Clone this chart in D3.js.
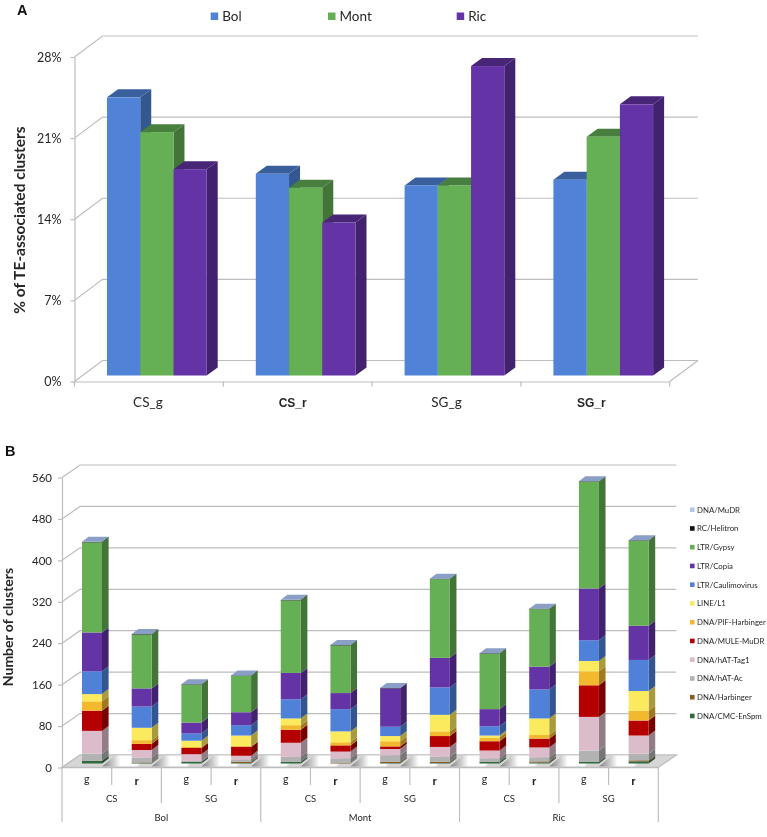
<!DOCTYPE html>
<html>
<head>
<meta charset="utf-8">
<script src="https://cdn.jsdelivr.net/npm/d3@7"></script>
<style>
  body { margin: 0; background: #fff; }
  svg { display: block; filter: blur(0.35px); }
  text { font-family: Lato, "Open Sans", sans-serif; fill: #262626; }
</style>
</head>
<body>
<div id="chart"></div>
<script>
// Panel A data
const samplesA = ["CS_g", "CS_r", "SG_g", "SG_r"];
const linesA = ["Bol", "Mont", "Ric"];
const bol = [24.0, 17.4, 16.4, 16.9];
const mont = [21.0, 16.2, 16.4, 20.6];
const ric = [17.8, 13.2, 26.7, 23.4];
const ticksA = [0, 7, 14, 21, 28];

// Panel B data, bars go left to right
const groupB = ["Bol", "Mont", "Ric"];
const tissueB = ["CS", "SG"];
const partB = ["g", "r"];
const cmcEnSpm = [5, 1, 3, 1, 3, 0, 1, 1, 3, 2, 3, 4];
const harbinger = [0, 1, 0, 2, 0, 1, 2, 2, 0, 2, 0, 2];
const hatAc = [14, 9, 2, 5, 10, 9, 13, 10, 7, 8, 22, 13];
const hatTag1 = [44, 15, 13, 7, 27, 13, 12, 19, 15, 19, 65, 35];
const muleMudr = [39, 12, 12, 17, 25, 12, 5, 21, 18, 17, 61, 29];
const pifHarbinger = [18, 7, 2, 2, 9, 6, 10, 9, 7, 7, 27, 19];
const lineL1 = [14, 24, 12, 20, 13, 21, 10, 32, 4, 32, 20, 38];
const caulimovirus = [44, 41, 14, 20, 37, 43, 18, 53, 18, 56, 40, 60];
const copia = [75, 35, 21, 25, 51, 31, 74, 57, 33, 44, 100, 66];
const gypsy = [174, 104, 73, 70, 140, 92, 0, 152, 107, 111, 206, 164];
const helitron = [1, 1, 1, 1, 1, 1, 1, 1, 1, 1, 1, 1];
const mudr = [0, 0, 0, 0, 0, 0, 0, 0, 0, 0, 0, 0];
const ticksB = [0, 80, 160, 240, 320, 400, 480, 560];

// bottom to top of the stack
const seriesB = [
  {name: "DNA/CMC-EnSpm", values: cmcEnSpm, color: "#2f6b3c"},
  {name: "DNA/Harbinger", values: harbinger, color: "#8a5a20"},
  {name: "DNA/hAT-Ac", values: hatAc, color: "#b2b2b2"},
  {name: "DNA/hAT-Tag1", values: hatTag1, color: "#dcbccb"},
  {name: "DNA/MULE-MuDR", values: muleMudr, color: "#b40000"},
  {name: "DNA/PIF-Harbinger", values: pifHarbinger, color: "#f2b82e"},
  {name: "LINE/L1", values: lineL1, color: "#fbea5e"},
  {name: "LTR/Caulimovirus", values: caulimovirus, color: "#4f81d9"},
  {name: "LTR/Copia", values: copia, color: "#6433a6"},
  {name: "LTR/Gypsy", values: gypsy, color: "#65af55"},
  {name: "RC/Helitron", values: helitron, color: "#111111"},
  {name: "DNA/MuDR", values: mudr, color: "#b4caec"}
];

const colorsA = {Bol: "#5083d8", Mont: "#65af55", Ric: "#6433a6"};
const gridColor = "#bdbdbd";

const svg = d3.select("#chart").append("svg")
  .attr("width", 767)
  .attr("height", 837);

const poly = pts => "M" + pts.map(p => p.join(",")).join("L") + "Z";

// one box: side face, top face, then front
function drawBox(g, x, w, yTop, yBase, dx, dy, color, topColor) {
  const side = d3.rgb(color).darker(1.15).formatHex();
  g.append("path")
    .attr("d", poly([[x + w, yTop], [x + w + dx, yTop + dy], [x + w + dx, yBase + dy], [x + w, yBase]]))
    .attr("fill", side);
  if (topColor) {
    g.append("path")
      .attr("d", poly([[x, yTop], [x + dx, yTop + dy], [x + w + dx, yTop + dy], [x + w, yTop]]))
      .attr("fill", topColor);
  }
  g.append("rect")
    .attr("x", x).attr("y", yTop)
    .attr("width", w).attr("height", yBase - yTop)
    .attr("fill", color);
}

// Walls, side lines and axis shared by both panels
function drawFrame(y, ticks, left, right, wallX, wallY, lineWidth) {
  const g = svg.append("g");
  ticks.forEach(t => {
    g.append("path")
      .attr("d", `M${left},${y(t)}L${left + wallX},${y(t) + wallY}L${right + wallX},${y(t) + wallY}`)
      .attr("fill", "none")
      .attr("stroke", gridColor)
      .attr("stroke-width", lineWidth);
  });
  return g;
}

function styleAxis(g, size) {
  g.selectAll("path, line").attr("stroke", gridColor).attr("stroke-width", 1.2);
  g.selectAll("text").attr("font-size", size).attr("font-family", "Lato").attr("fill", "#262626");
}

// ---- Panel A ----
const xA = d3.scaleBand().domain(samplesA).range([74.5, 669.7]);
const yA = d3.scaleLinear().domain([0, 28]).range([381.5, 57]);
const barX = d3.scaleBand().domain(linesA).range([32.5, 132.2]);
const valuesA = {Bol: bol, Mont: mont, Ric: ric};
const shiftA = [-1, -5, 0, -4];

drawFrame(yA, ticksA, 74.5, 669.7, 28, -21, 1.2);
svg.append("path")
  .attr("d", `M669.7,381.5L698,360.5`)
  .attr("stroke", gridColor).attr("stroke-width", 1.2);

const axisLeftA = svg.append("g")
  .attr("transform", "translate(74.5,0)")
  .call(d3.axisLeft(yA).tickValues(ticksA).tickFormat(d => d + "%").tickSize(4).tickPadding(9).tickSizeOuter(0));
styleAxis(axisLeftA, 12.5);

const axisBottomA = svg.append("g")
  .attr("transform", "translate(0,381.5)")
  .call(d3.axisBottom(xA).tickSize(0).tickFormat(""));
styleAxis(axisBottomA, 12);
xA.domain().concat("end").forEach((d, i) => {
  const px = 74.5 + i * xA.step();
  axisBottomA.append("line").attr("x1", px).attr("x2", px).attr("y1", 0).attr("y2", 5)
    .attr("stroke", gridColor).attr("stroke-width", 1.2);
});

const barsA = svg.append("g");
samplesA.forEach((s, i) => {
  linesA.forEach(l => {
    const c = d3.rgb(colorsA[l]);
    drawBox(barsA, xA(s) + barX(l), barX.bandwidth(),
      yA(valuesA[l][i]) - 6, yA(0) - 6, 11, -8, colorsA[l], c.darker(0.9).formatHex());
  });
  svg.append("text")
    .attr("x", xA(s) + xA.bandwidth() / 2 + shiftA[i])
    .attr("y", 406.5)
    .attr("text-anchor", "middle")
    .attr("font-size", i % 2 ? 12 : 13.5)
    .attr("font-weight", i % 2 ? "bold" : "normal")
    .style("font-family", i % 2 ? "'Liberation Sans'" : "Lato")
    .text(s);
});

svg.append("text")
  .attr("transform", "translate(25,220) rotate(-90)")
  .attr("text-anchor", "middle")
  .attr("font-size", 15.5)
  .attr("font-weight", "bold")
  .text("% of TE-associated clusters");

// legend A
const legendXA = [210.7, 328, 456.7];
linesA.forEach((l, i) => {
  svg.append("rect")
    .attr("x", legendXA[i]).attr("y", 12.5)
    .attr("width", 7.5).attr("height", 7.5)
    .attr("fill", colorsA[l]);
  svg.append("text")
    .attr("x", legendXA[i] + 11.5).attr("y", 21)
    .attr("font-size", 13.5)
    .text(l);
});

// panel letters
[["A", 17, 15], ["B", 5, 456]].forEach(d => {
  svg.append("text")
    .attr("x", d[1]).attr("y", d[2])
    .attr("font-size", 14.5)
    .attr("font-weight", "bold")
    .style("font-family", "'Liberation Sans'")
    .style("fill", "#111")
    .text(d[0]);
});

// ---- Panel B ----
const bars = d3.range(12);
const xB = d3.scaleBand().domain(bars).range([62, 658.3]);
const yB = d3.scaleLinear().domain([0, 560]).range([767.5, 477.5]);
const barOffset = 20, barWidth = 20;

drawFrame(yB, ticksB, 62, 658.3, 18, -12.5, 1.2);

// floor with a soft shadow next to each bar
const defs = svg.append("defs");
const floorGrad = defs.append("linearGradient").attr("id", "floorShade");
floorGrad.append("stop").attr("offset", "0%").attr("stop-color", "#7d7d7d");
floorGrad.append("stop").attr("offset", "38%").attr("stop-color", "#ffffff");
floorGrad.append("stop").attr("offset", "70%").attr("stop-color", "#ffffff");
floorGrad.append("stop").attr("offset", "100%").attr("stop-color", "#a8a8a8");

svg.append("path")
  .attr("d", poly([[62, yB(0)], [80, yB(0) - 12.5], [676.3, yB(0) - 12.5], [658.3, yB(0)]]))
  .attr("fill", "#d6d6d6")
  .attr("stroke", gridColor)
  .attr("stroke-width", 1.2);
bars.slice(0, 11).forEach(i => {
  const x0 = xB(i) + barOffset + barWidth - 3, x1 = xB(i + 1) + barOffset + 3;
  svg.append("path")
    .attr("d", poly([[x0 + 3, yB(0) - 1], [x0 + 16, yB(0) - 12], [x1 + 16, yB(0) - 12], [x1 + 3, yB(0) - 1]]))
    .attr("fill", "url(#floorShade)");
});

const axisLeftB = svg.append("g")
  .attr("transform", "translate(62,0)")
  .call(d3.axisLeft(yB).tickValues(ticksB).tickSize(4).tickPadding(6).tickSizeOuter(0));
styleAxis(axisLeftB, 11.5);

svg.append("line")
  .attr("x1", 62).attr("x2", 658.3)
  .attr("y1", yB(0)).attr("y2", yB(0))
  .attr("stroke", gridColor).attr("stroke-width", 1.4);

// stacks
const stack = d3.stack()
  .keys(seriesB.map((d, i) => i))
  .value((b, k) => seriesB[k].values[b]);
const stacked = stack(bars);
const barsB = svg.append("g");
bars.forEach(b => {
  const x = xB(b) + barOffset;
  stacked.forEach((layer, k) => {
    const y0 = yB(layer[b][0]) - 4, y1 = yB(layer[b][1]) - 4;
    if (y0 - y1 <= 0) return;
    drawBox(barsB, x, barWidth, y1, y0, 6.6, -5, seriesB[k].color, null);
  });
  const top = yB(stacked[stacked.length - 1][b][1]) - 4;
  barsB.append("path")
    .attr("d", poly([[x, top], [x + 6.6, top - 5], [x + barWidth + 6.6, top - 5], [x + barWidth, top]]))
    .attr("fill", "#8a9fc6");
});

// three-level category axis
const sepColor = "#bfbfbf";
d3.range(13).forEach(i => {
  const bottom = i % 4 === 0 ? 822 : (i % 2 === 0 ? 803 : 785);
  const px = i === 12 ? 658.3 : xB(i);
  svg.append("line")
    .attr("x1", px).attr("x2", px)
    .attr("y1", yB(0)).attr("y2", bottom)
    .attr("stroke", sepColor).attr("stroke-width", 1.2);
});
bars.forEach(b => {
  const isG = b % 2 === 0;
  svg.append("text")
    .attr("x", xB(b) + xB.bandwidth() / 2)
    .attr("y", isG ? 783 : 784.5)
    .attr("text-anchor", "middle")
    .attr("font-size", isG ? 10.5 : 11)
    .attr("font-weight", isG ? "normal" : "bold")
    .style("font-family", isG ? "Lato" : "'Liberation Sans'")
    .text(partB[b % 2]);
});
d3.range(6).forEach(i => {
  svg.append("text")
    .attr("x", xB(i * 2) + xB.bandwidth())
    .attr("y", 801.5)
    .attr("text-anchor", "middle")
    .attr("font-size", 9.5)
    .text(tissueB[i % 2]);
});
groupB.forEach((g, i) => {
  svg.append("text")
    .attr("x", xB(i * 4) + xB.bandwidth() * 2)
    .attr("y", 820.5)
    .attr("text-anchor", "middle")
    .attr("font-size", 9.5)
    .text(g);
});

svg.append("text")
  .attr("transform", "translate(13,627) rotate(-90)")
  .attr("text-anchor", "middle")
  .attr("font-size", 14)
  .attr("font-weight", "bold")
  .text("Number of clusters");

// legend B, top entry first
seriesB.slice().reverse().forEach((s, i) => {
  const cy = 509.7 + i * 18.75;
  svg.append("rect")
    .attr("x", 690).attr("y", cy - 2.3)
    .attr("width", 4.6).attr("height", 4.6)
    .attr("fill", s.color);
  svg.append("text")
    .attr("x", 697).attr("y", cy + 3)
    .attr("font-size", 7.8)
    .text(s.name);
});
</script>
</body>
</html>
